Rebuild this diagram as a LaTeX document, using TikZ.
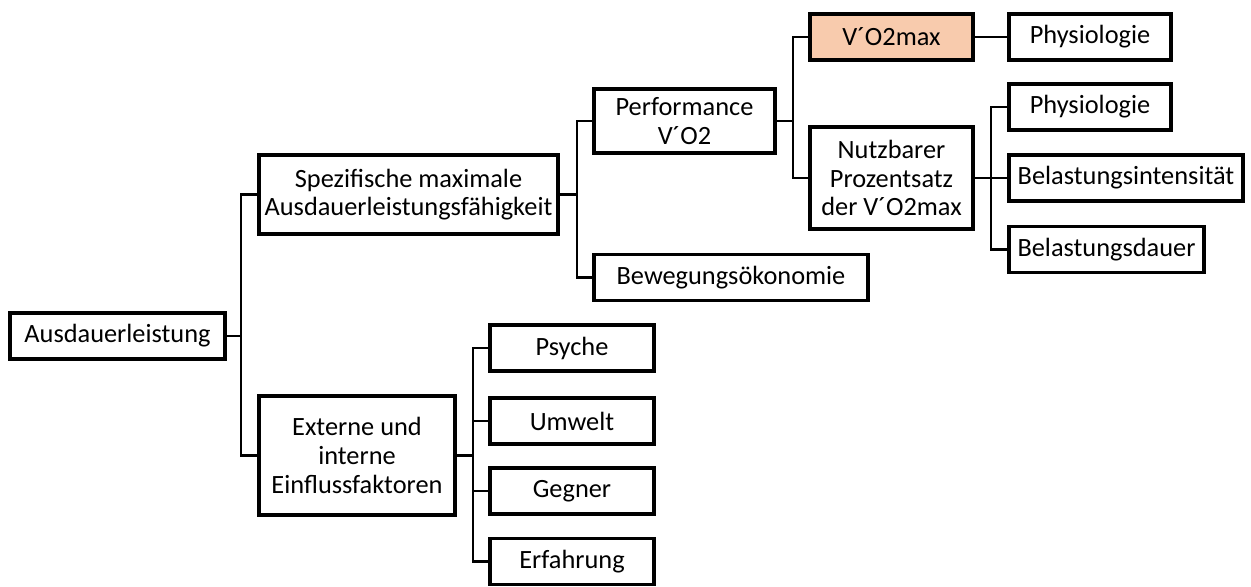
\documentclass[tikz,border=0pt]{standalone}
\usepackage{fontspec}
\setmainfont{Carlito}
\usetikzlibrary{positioning}
\definecolor{peach}{HTML}{F8CBAD}

\begin{document}
\begin{tikzpicture}[x=0.02cm, y=-0.02cm,
    box/.style={draw, line width=2pt, align=center, inner sep=0pt,
      minimum height=0.92cm, font=\fontsize{15}{16.3}\selectfont},
    link/.style={line width=1.4pt}]
  \useasboundingbox (0,0) rectangle (1251,587);

  \node[box, minimum width=4.3cm]                      (aus)    at (117.5,336)  {Ausdauerleistung};
  \node[box, minimum width=5.98cm, minimum height=1.58cm] (spez) at (408.5,194.5) {Spezifische maximale\\Ausdauerleistungsfähigkeit};
  \node[box, minimum width=3.92cm, minimum height=2.38cm] (ext)  at (357,455.5)  {Externe und\\interne\\Einflussfaktoren};
  \node[box, minimum width=3.62cm, minimum height=1.28cm] (perf) at (684.5,121)  {Performance\\V´O2};
  \node[box, minimum width=5.48cm]                     (beweg)  at (731,277.5)  {Bewegungsökonomie};
  \node[box, minimum width=3.26cm, fill=peach]         (vo2)    at (891.5,37)   {V´O2max};
  \node[box, minimum width=3.26cm, minimum height=2.04cm] (nutz) at (891.5,178) {Nutzbarer\\Prozentsatz\\der V´O2max};
  \node[box, minimum width=3.24cm]                     (phys1)  at (1090,37)    {Physiologie};
  \node[box, minimum width=3.24cm]                     (phys2)  at (1090,107)   {Physiologie};
  \node[box, minimum width=4.68cm]                     (intens) at (1126,178)   {Belastungsintensität};
  \node[box, minimum width=3.9cm]                      (dauer)  at (1106.5,249.5) {Belastungsdauer};
  \node[box, minimum width=3.28cm]                     (psyche) at (572,348)    {Psyche};
  \node[box, minimum width=3.28cm]                     (umwelt) at (572,421)    {Umwelt};
  \node[box, minimum width=3.28cm]                     (gegner) at (572,491)    {Gegner};
  \node[box, minimum width=3.28cm]                     (erfahr) at (572,561.5)  {Erfahrung};

  % Ausdauerleistung -> two branches
  \draw[link] (aus.east) -- ++(14,0) |- (spez.west);
  \draw[link] (aus.east) -- ++(14,0) |- (ext.west);
  % Spezifische -> Performance, Bewegungsoekonomie
  \draw[link] (spez.east) -- ++(17,0) |- (perf.west);
  \draw[link] (spez.east) -- ++(17,0) |- (beweg.west);
  % Performance -> VO2max, Nutzbarer Prozentsatz
  \draw[link] (perf.east) -- ++(16,0) |- (vo2.west);
  \draw[link] (perf.east) -- ++(16,0) |- (nutz.west);
  % VO2max -> Physiologie
  \draw[link] (vo2.east) -- (phys1.west);
  % Nutzbarer Prozentsatz -> three factors
  \draw[link] (nutz.east) -- ++(16,0) |- (phys2.west);
  \draw[link] (nutz.east) -- ++(16,0) |- (intens.west);
  \draw[link] (nutz.east) -- ++(16,0) |- (dauer.west);
  % Einflussfaktoren -> four factors
  \draw[link] (ext.east) -- ++(16,0) |- (psyche.west);
  \draw[link] (ext.east) -- ++(16,0) |- (umwelt.west);
  \draw[link] (ext.east) -- ++(16,0) |- (gegner.west);
  \draw[link] (ext.east) -- ++(16,0) |- (erfahr.west);

\end{tikzpicture}
\end{document}
